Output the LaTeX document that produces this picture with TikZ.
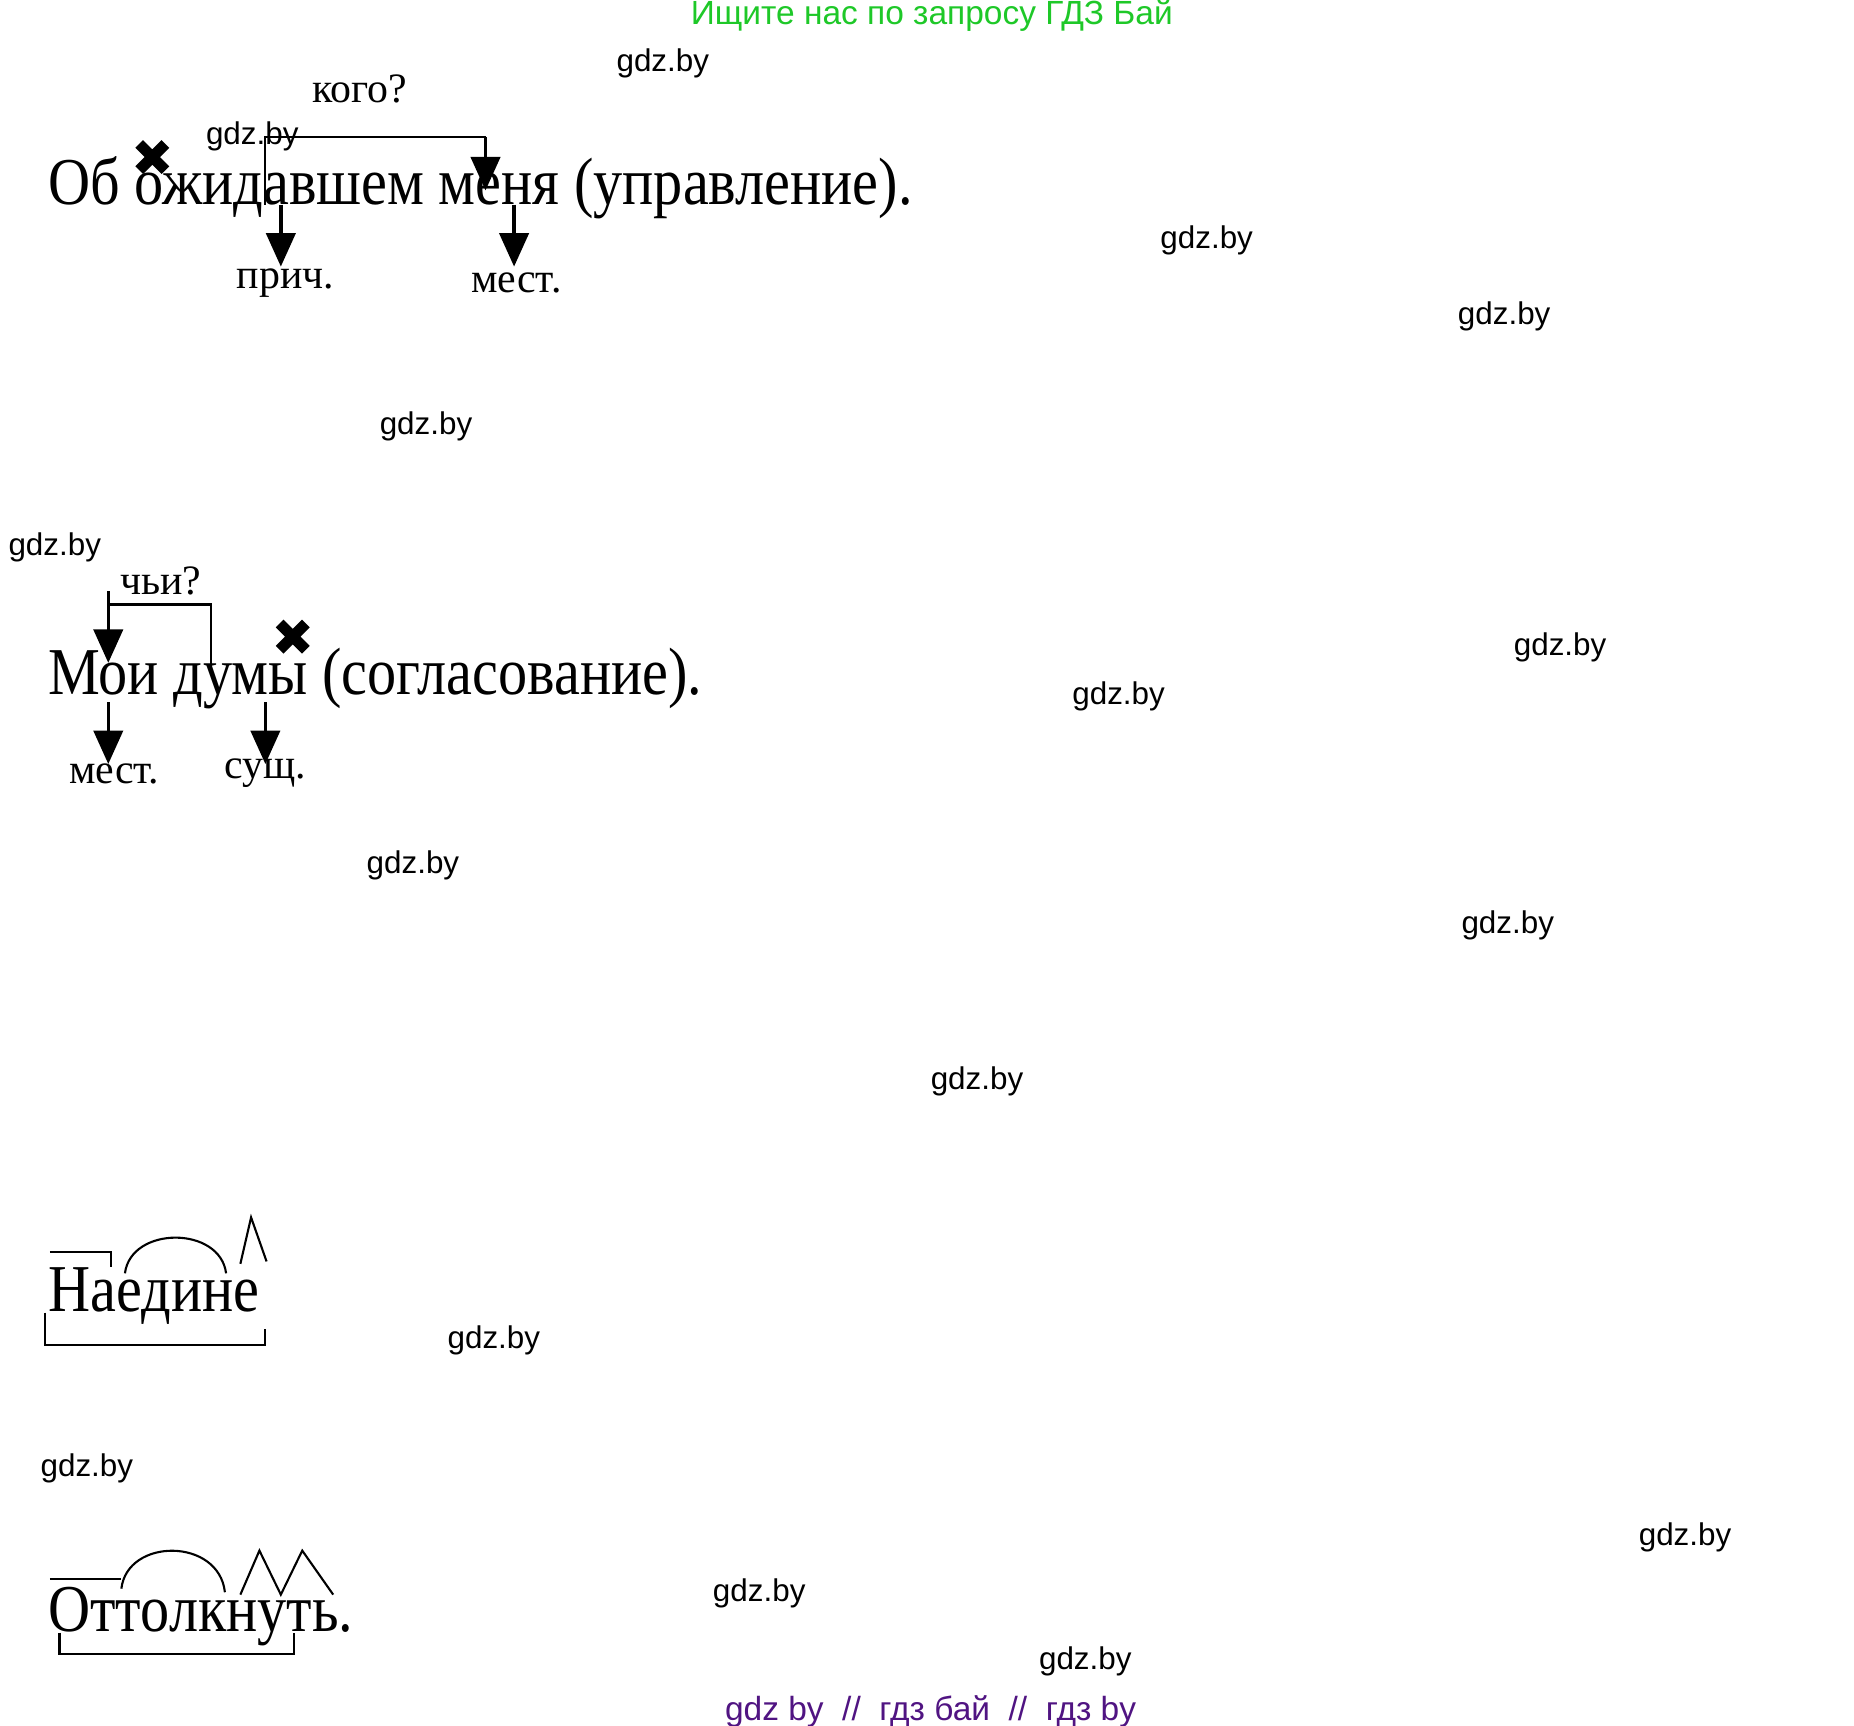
\documentclass[tikz,border=0pt]{standalone}
\usepackage{fontspec}
\setmainfont{Liberation Serif}
\newfontfamily\wmfont{Liberation Sans}
\usetikzlibrary{arrows.meta, positioning}

\newcommand{\narrow}[1]{\scalebox{0.87}[1]{#1}}

\tikzset{
  sent/.style={anchor=base west, inner sep=0pt, font=\fontsize{16}{18}\selectfont},
  lbl/.style={font=\fontsize{10}{12}\selectfont, inner sep=0pt},
  wm/.style={font=\wmfont\fontsize{7.5}{9}\selectfont, inner sep=0pt},
  arr/.style={thick, -{Triangle[length=8pt, width=7pt]}},
  thin line/.style={line width=0.5pt},
  cross/.style={line width=2.6pt},
}

\begin{document}
\begin{tikzpicture}[x={(0.01cm,0)}, y={(0,-0.01cm)}]
    \useasboundingbox (0,0) rectangle (1558,1450);

    % header and footer
    \node[wm, text={rgb,255:red,30;green,200;blue,40}, font=\wmfont\fontsize{8}{10}\selectfont] (head) at (783,13) {Ищите нас по запросу ГДЗ Бай};
    \node[wm, text={rgb,255:red,80;green,20;blue,130}, font=\wmfont\fontsize{8}{10}\selectfont] (foot) at (782,1438) {gdz by\ \ //\ \ гдз бай\ \ //\ \ гдз by};

    % first sentence: управление
    \node[sent] (s1) at (40,172) {\narrow{Об ожидавшем меня (управление).}};
    \node[lbl] (q1) at (302,75) {кого?};
    \draw[thin line] (223,172) -- (223,115) -- (408,115);
    \draw[arr] (408,115) -- (408,160);
    \draw[arr] (236,172) -- (236,224);
    \draw[arr] (432,172) -- (432,224);
    \node[lbl] (p1) at (240,238) {прич.};
    \node[lbl] (m1) at (434,238) {мест.};
    \draw[cross] (117,121) -- (139,143) (139,121) -- (117,143);

    % second sentence: согласование
    \node[sent] (s2) at (40,584) {\narrow{Мои думы (согласование).}};
    \node[lbl] (q2) at (135,488) {чьи?};
    \draw[thin line] (177,565) -- (177,508) -- (91,508);
    \draw[arr] (91,497) -- (91,557);
    \draw[arr] (91,590) -- (91,642);
    \draw[arr] (223,590) -- (223,642);
    \node[lbl] (m2) at (96,650) {мест.};
    \node[lbl] (n2) at (223,650) {сущ.};
    \draw[cross] (235,524) -- (257,546) (257,524) -- (235,546);

    % word parts
    \node[sent] (w1) at (40,1102) {\narrow{Наедине}};
    \draw[thin line] (42,1052) -- (93,1052) -- (93,1065);
    \draw[thin line] (105,1070) .. controls (110,1030) and (185,1030) .. (190,1070);
    \draw[thin line] (202,1062) -- (211,1023) -- (224,1060);
    \draw[thin line] (38,1103) -- (38,1130) -- (223,1130) -- (223,1117);

    \node[sent] (w2) at (40,1371) {\narrow{Оттолкнуть.}};
    \draw[thin line] (42,1327) -- (102,1327);
    \draw[thin line] (102,1335) .. controls (107,1292) and (184,1292) .. (189,1338);
    \draw[thin line] (202,1340) -- (218,1303) -- (236,1340) -- (254,1303) -- (280,1340);
    \draw[thin line] (50,1372) -- (50,1390) -- (247,1390) -- (247,1372);

    % watermarks
    \foreach \x/\y [count=\i] in {557/53, 212/115, 1014/202, 1264/266, 358/358, 46/460,
        1311/544, 940/585, 347/727, 1267/778, 821/909, 415/1126, 73/1234,
        1416/1292, 638/1339, 912/1396}
      \node[wm] (wm\i) at (\x,\y) {gdz.by};
\end{tikzpicture}
\end{document}
